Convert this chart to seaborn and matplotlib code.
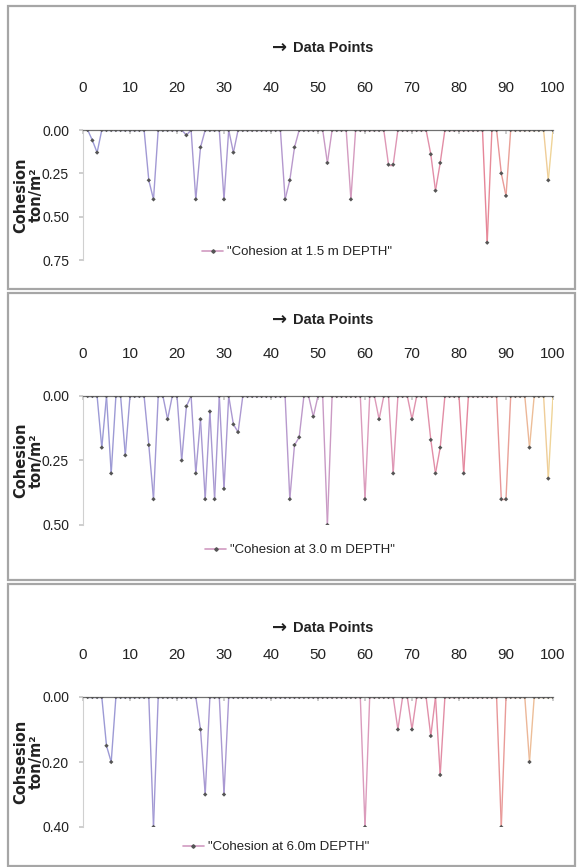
import numpy as np
import matplotlib
matplotlib.use("Agg")
import matplotlib.pyplot as plt
import seaborn as sns
from matplotlib.collections import LineCollection
from matplotlib.colors import LinearSegmentedColormap
from matplotlib.lines import Line2D
from matplotlib.patches import Rectangle

# data points 1..100, cohesion in ton/m^2
points = list(range(1, 101))

cohesion_15 = [
    0.00, 0.06, 0.13, 0.00, 0.00, 0.00, 0.00, 0.00, 0.00, 0.00,
    0.00, 0.00, 0.00, 0.29, 0.40, 0.00, 0.00, 0.00, 0.00, 0.00,
    0.00, 0.03, 0.00, 0.40, 0.10, 0.00, 0.00, 0.00, 0.00, 0.40,
    0.00, 0.13, 0.00, 0.00, 0.00, 0.00, 0.00, 0.00, 0.00, 0.00,
    0.00, 0.00, 0.40, 0.29, 0.10, 0.00, 0.00, 0.00, 0.00, 0.00,
    0.00, 0.19, 0.00, 0.00, 0.00, 0.00, 0.40, 0.00, 0.00, 0.00,
    0.00, 0.00, 0.00, 0.00, 0.20, 0.20, 0.00, 0.00, 0.00, 0.00,
    0.00, 0.00, 0.00, 0.14, 0.35, 0.19, 0.00, 0.00, 0.00, 0.00,
    0.00, 0.00, 0.00, 0.00, 0.00, 0.65, 0.00, 0.00, 0.25, 0.38,
    0.00, 0.00, 0.00, 0.00, 0.00, 0.00, 0.00, 0.00, 0.29, 0.00,
]

cohesion_30 = [
    0.00, 0.00, 0.00, 0.20, 0.00, 0.30, 0.00, 0.00, 0.23, 0.00,
    0.00, 0.00, 0.00, 0.19, 0.40, 0.00, 0.00, 0.09, 0.00, 0.00,
    0.25, 0.04, 0.00, 0.30, 0.09, 0.40, 0.06, 0.40, 0.00, 0.36,
    0.00, 0.11, 0.14, 0.00, 0.00, 0.00, 0.00, 0.00, 0.00, 0.00,
    0.00, 0.00, 0.00, 0.40, 0.19, 0.16, 0.00, 0.00, 0.08, 0.00,
    0.00, 0.50, 0.00, 0.00, 0.00, 0.00, 0.00, 0.00, 0.00, 0.40,
    0.00, 0.00, 0.09, 0.00, 0.00, 0.30, 0.00, 0.00, 0.00, 0.09,
    0.00, 0.00, 0.00, 0.17, 0.30, 0.20, 0.00, 0.00, 0.00, 0.00,
    0.30, 0.00, 0.00, 0.00, 0.00, 0.00, 0.00, 0.00, 0.40, 0.40,
    0.00, 0.00, 0.00, 0.00, 0.20, 0.00, 0.00, 0.00, 0.32, 0.00,
]

cohesion_60 = [
    0.00, 0.00, 0.00, 0.00, 0.15, 0.20, 0.00, 0.00, 0.00, 0.00,
    0.00, 0.00, 0.00, 0.00, 0.40, 0.00, 0.00, 0.00, 0.00, 0.00,
    0.00, 0.00, 0.00, 0.00, 0.10, 0.30, 0.00, 0.00, 0.00, 0.30,
    0.00, 0.00, 0.00, 0.00, 0.00, 0.00, 0.00, 0.00, 0.00, 0.00,
    0.00, 0.00, 0.00, 0.00, 0.00, 0.00, 0.00, 0.00, 0.00, 0.00,
    0.00, 0.00, 0.00, 0.00, 0.00, 0.00, 0.00, 0.00, 0.00, 0.40,
    0.00, 0.00, 0.00, 0.00, 0.00, 0.00, 0.10, 0.00, 0.00, 0.10,
    0.00, 0.00, 0.00, 0.12, 0.00, 0.24, 0.00, 0.00, 0.00, 0.00,
    0.00, 0.00, 0.00, 0.00, 0.00, 0.00, 0.00, 0.00, 0.40, 0.00,
    0.00, 0.00, 0.00, 0.00, 0.20, 0.00, 0.00, 0.00, 0.00, 0.00,
]

series = [cohesion_15, cohesion_30, cohesion_60]
legend_labels = ['"Cohesion at 1.5 m DEPTH"', '"Cohesion at 3.0 m DEPTH"',
                 '"Cohesion at 6.0m DEPTH"']
ylabels = ["Cohesion\nton/m²", "Cohesion\nton/m²", "Cohsesion\nton/m²"]
ymax = [0.75, 0.50, 0.40]
yticks = [[0.0, 0.25, 0.5, 0.75], [0.0, 0.25, 0.5], [0.0, 0.2, 0.4]]
xticks = list(range(0, 101, 10))

W, H = 582, 867

sns.set_theme(style="white")
plt.rcParams["font.family"] = ["Liberation Sans", "DejaVu Sans"]

cmap = LinearSegmentedColormap.from_list(
    "grad", [(0.0, "#9a9ad6"), (0.4, "#b098d0"), (0.6, "#dc9cbc"),
             (0.85, "#e68498"), (1.0, "#f0d898")])

fig = plt.figure(figsize=(W / 100, H / 100), dpi=100)

# panel frames (px): top, bottom
frames = [(6, 289), (293, 580), (584, 866)]
for top, bot in frames:
    fig.patches.append(Rectangle((8 / W, 1 - bot / H), 567 / W, (bot - top) / H,
                                 transform=fig.transFigure, fill=False,
                                 edgecolor="#a6a6a6", linewidth=1.6))

# axes in px: (top, bottom), title y, legend (x, y)
ax_px = [(130, 260), (396, 525), (697, 827)]
title_y = [48, 320, 628]
legend_pos = [(297, 252), (300, 550), (276, 847)]
left, right = 83, 553

for i, vals in enumerate(series):
    top, bot = ax_px[i]
    ax = fig.add_axes([left / W, 1 - bot / H, (right - left) / W, (bot - top) / H])
    x = np.array(points, dtype=float)
    y = np.array(vals)

    # gradient line like the excel chart
    pts = np.column_stack([x, y]).reshape(-1, 1, 2)
    segs = np.concatenate([pts[:-1], pts[1:]], axis=1)
    lc = LineCollection(segs, colors=cmap(x[:-1] / 100), linewidths=1.0, zorder=2)
    ax.add_collection(lc)
    sns.scatterplot(x=x, y=y, ax=ax, marker="D", s=5, color="#555555",
                    edgecolor="none", zorder=3, legend=False)

    ax.set_xlim(0, 100)
    ax.set_ylim(ymax[i], 0)
    ax.set_xticks(xticks)
    ax.set_yticks(yticks[i])
    ax.set_yticklabels([f"{v:.2f}" for v in yticks[i]])
    ax.xaxis.tick_top()
    ax.tick_params(axis="x", direction="in", length=3, color="#c8c8c8",
                   pad=25, labelsize=11, top=True, bottom=False,
                   labelcolor="#222222")
    ax.tick_params(axis="y", direction="out", length=3, color="#c8c8c8",
                   pad=7, labelsize=10, left=True, labelcolor="#222222")
    for s in ["right", "bottom"]:
        ax.spines[s].set_visible(False)
    ax.spines["left"].set_color("#d0d0d0")
    ax.spines["left"].set_linewidth(0.8)
    ax.spines["top"].set_color("#707070")
    ax.spines["top"].set_linewidth(0.9)
    ax.set_xlabel("")
    ax.set_ylabel(ylabels[i], fontsize=10.5, fontweight="bold",
                  family=["DejaVu Sans"], linespacing=1.1, color="#222222")
    ax.yaxis.set_label_coords((44 - left) / (right - left), 0.5)

    fig.text(280 / W, 1 - title_y[i] / H, "→", ha="center", va="center",
             fontsize=13, fontweight="bold", family=["DejaVu Sans"],
             color="#222222")
    fig.text(333 / W, 1 - title_y[i] / H, "Data Points", ha="center",
             va="center", fontsize=10.5, fontweight="bold", color="#222222")

    handle = Line2D([], [], color=cmap(0.55), lw=1.2, marker="D", markersize=1.8,
                    markerfacecolor="#555555", markeredgecolor="#555555")
    lx, ly = legend_pos[i]
    ax.legend(handles=[handle], labels=[legend_labels[i]], loc="center",
              bbox_to_anchor=(lx / W, 1 - ly / H), bbox_transform=fig.transFigure,
              frameon=False, fontsize=9.5, handlelength=1.6, handletextpad=0.3,
              labelcolor="#222222")

fig.savefig("out.png", dpi=100, facecolor="white")
